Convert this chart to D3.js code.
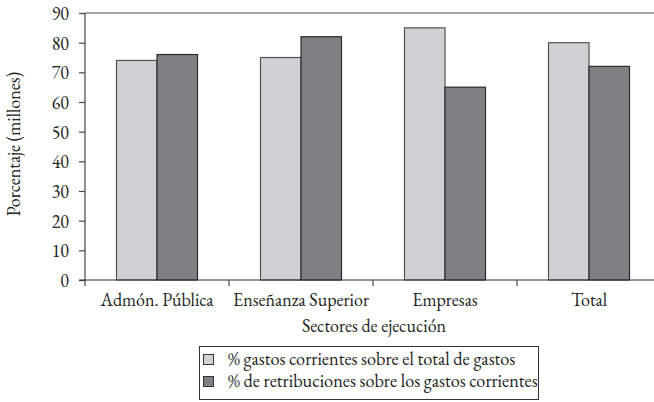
<!DOCTYPE html>
<html><head><meta charset="utf-8">
<script src="https://cdn.jsdelivr.net/npm/d3@7"></script>
<style>body{margin:0;background:#fff}svg{display:block}</style>
</head><body><svg id="c" width="654" height="402"></svg>
<script>
const categories = ["Admón. Pública", "Enseñanza Superior", "Empresas", "Total"];
const seriesNames = ["% gastos corrientes sobre el total de gastos", "% de retribuciones sobre los gastos corrientes"];
const gastosCorrientes = [74, 75, 85, 80];
const retribuciones = [76, 82, 65, 72];
const yTicks = [0, 10, 20, 30, 40, 50, 60, 70, 80, 90];
const colors = ["#d0d1d3", "#7f8083"];
const FONT = "EB Garamond, Liberation Serif, serif";
const TXT = "#222";

const svg = d3.select("#c");
const x0 = d3.scaleBand().domain(categories).range([85, 661]);
const x1 = d3.scaleBand().domain([0, 1]).range([0, 81]);
const y = d3.scaleLinear().domain([0, 90]).range([280, 13]);

svg.append("line").attr("x1", 85).attr("x2", 654).attr("y1", y(90)).attr("y2", y(90)).attr("stroke", "#444").attr("stroke-width", 1.2);

const series = [gastosCorrientes, retribuciones];
categories.forEach((c, i) => {
  series.forEach((s, j) => {
    svg.append("rect")
      .attr("x", x0(c) + x0.bandwidth() / 2 - 40.5 + x1(j))
      .attr("y", y(s[i]))
      .attr("width", x1.bandwidth())
      .attr("height", y(0) - y(s[i]))
      .attr("fill", colors[j])
      .attr("stroke", j === 0 ? "#555" : "#2a2a2a")
      .attr("stroke-width", 1.2);
  });
});

const ya = svg.append("g").attr("transform", "translate(85,0)")
  .call(d3.axisLeft(y).tickValues(yTicks).tickSize(6).tickPadding(10));
ya.attr("font-family", FONT).attr("font-size", 18);
ya.select(".domain").attr("d", `M0,${y(90)}V286`).attr("stroke", "#444").attr("stroke-width", 1.2);
ya.selectAll(".tick line").attr("stroke", "#444").attr("stroke-width", 1.2);
ya.selectAll(".tick text").attr("fill", TXT).attr("dy", "0.36em");

svg.append("line").attr("x1", 79).attr("x2", 654).attr("y1", y(0)).attr("y2", y(0)).attr("stroke", "#333").attr("stroke-width", 1.2);
categories.forEach(c => {
  const b = x0(c) + x0.bandwidth();
  svg.append("line").attr("x1", b).attr("x2", b).attr("y1", y(0)).attr("y2", 286).attr("stroke", "#444").attr("stroke-width", 1.2);
  svg.append("text").attr("x", x0(c) + x0.bandwidth() / 2).attr("y", 306)
    .attr("text-anchor", "middle").attr("font-family", FONT).attr("font-size", 18).attr("fill", TXT).text(c);
});

svg.append("text").attr("x", 374).attr("y", 332).attr("text-anchor", "middle").attr("font-family", FONT).attr("font-size", 18).attr("fill", TXT).text("Sectores de ejecución");
svg.append("text").attr("transform", "translate(20,144) rotate(-90)").attr("text-anchor", "middle").attr("font-family", FONT).attr("font-size", 18).attr("fill", TXT).text("Porcentaje (millones)");

svg.append("rect").attr("x", 199.5).attr("y", 346.5).attr("width", 339).attr("height", 53).attr("fill", "none").attr("stroke", "#333").attr("stroke-width", 1);
seriesNames.forEach((n, j) => {
  const cy = 360 + j * 22;
  svg.append("rect").attr("x", 203.5).attr("y", cy - 5.5).attr("width", 10).attr("height", 10)
    .attr("fill", colors[j]).attr("stroke", "#333").attr("stroke-width", 1);
  svg.append("text").attr("x", 228).attr("y", cy + 5).attr("font-family", FONT).attr("font-size", 18.3).attr("fill", TXT).text(n);
});
</script></body></html>
